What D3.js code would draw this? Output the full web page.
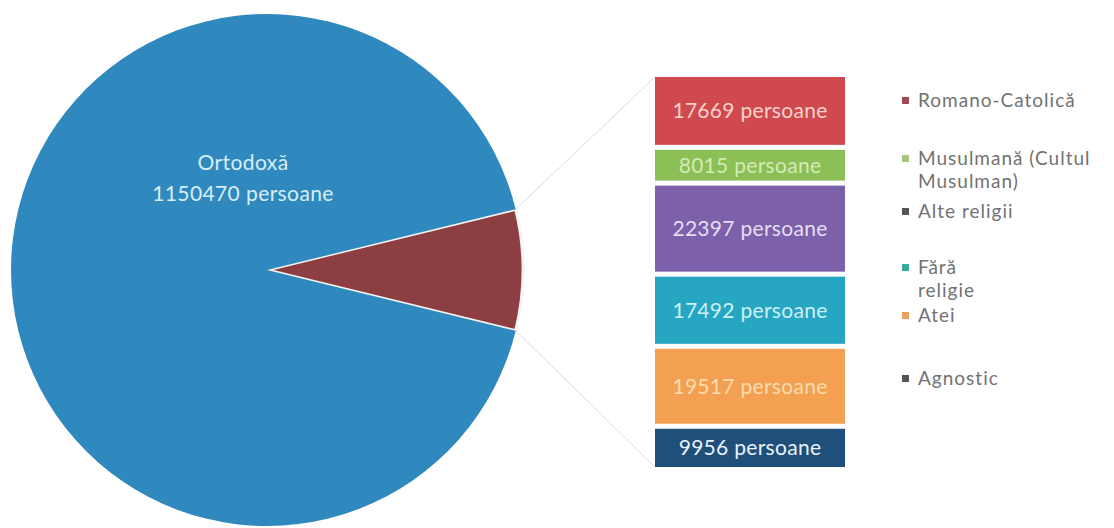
<!DOCTYPE html>
<html>
<head>
<meta charset="utf-8">
<script src="https://cdn.jsdelivr.net/npm/d3@7"></script>
<style>
  body { margin: 0; background: #fff; overflow: hidden; }
  svg { display: block; font-family: Lato, "Open Sans", sans-serif; }
</style>
</head>
<body>
<div id="chart"></div>
<script>
// Religion data (persons)
const mainLabel = "Ortodoxă";
const mainValue = 1150470;
const otherLabel = "Altele";

const categories = ["Romano-Catolică", "Musulmană (Cultul Musulman)", "Alte religii", "Fără religie", "Atei", "Agnostic"];
const values = [17669, 8015, 22397, 17492, 19517, 9956];
const legendLines = [["Romano-Catolică"], ["Musulmană (Cultul", "Musulman)"], ["Alte religii"], ["Fără", "religie"], ["Atei"], ["Agnostic"]];

const barColors = ["#d0494f", "#8cbf56", "#7c60aa", "#26a6c1", "#f4a052", "#1f4f7b"];
const barTextColors = ["#f7d3cc", "#d3ebb5", "#e6def3", "#cdeff6", "#fbdcae", "#eaf1f8"];
const legendColors = ["#9b4a55", "#a9c77e", "#555555", "#3aa7a2", "#e8a262", "#555555"];

const config = {
  width: 1114,
  height: 528,
  pie: { cx: 267, cy: 270, r: 256 },
  bar: { x: 655, width: 190, top: 77, bottom: 467, gap: 5 },
  legend: { x: 905, textX: 918, rows: [100, 158, 211, 267, 315, 378], lineGap: 23 }
};

const svg = d3.select("#chart")
  .append("svg")
  .attr("width", config.width)
  .attr("height", config.height);

// Pie: main slice + aggregated "other" slice, centered on 3 o'clock
const otherTotal = d3.sum(values);
const pieData = [{ label: otherLabel, value: otherTotal }, { label: mainLabel, value: mainValue }];
const otherAngle = 2 * Math.PI * otherTotal / (otherTotal + mainValue);
const start = Math.PI / 2 - otherAngle / 2;

const pie = d3.pie()
  .sort(null)
  .value(d => d.value)
  .startAngle(start)
  .endAngle(start + 2 * Math.PI);

const arcs = pie(pieData);
const arc = d3.arc().innerRadius(0).outerRadius(config.pie.r);

const pieG = svg.append("g")
  .attr("transform", `translate(${config.pie.cx},${config.pie.cy})`);

pieG.selectAll("path")
  .data(arcs)
  .join("path")
  .attr("d", arc)
  .attr("fill", (d, i) => i === 0 ? "#8c3e42" : "#2f89be")
  .attr("stroke", (d, i) => i === 0 ? "#f4f4f4" : "none")
  .attr("stroke-width", 3)
  .attr("stroke-linejoin", "round");

// Main slice label
pieG.append("text")
  .attr("text-anchor", "middle")
  .attr("fill", "#d9edf6")
  .attr("font-size", 21)
  .attr("letter-spacing", 0.4)
  .selectAll("tspan")
  .data([mainLabel, `${mainValue} persoane`])
  .join("tspan")
  .attr("x", -24)
  .attr("y", (d, i) => i === 0 ? -100 : -69)
  .text(d => d);

// Stacked bar for the breakdown
const b = config.bar;
const totalGap = b.gap * (values.length - 1);
const y = d3.scaleLinear()
  .domain([0, otherTotal])
  .range([0, b.bottom - b.top - totalGap]);

const stacked = [];
let acc = 0;
values.forEach((v, i) => {
  stacked.push({ i, v, y0: b.top + y(acc) + i * b.gap, h: y(v) });
  acc += v;
});

// Connector lines from the slice to the bar
const a0 = arcs[0];
const p0 = [Math.sin(a0.startAngle) * config.pie.r + config.pie.cx, -Math.cos(a0.startAngle) * config.pie.r + config.pie.cy];
const p1 = [Math.sin(a0.endAngle) * config.pie.r + config.pie.cx, -Math.cos(a0.endAngle) * config.pie.r + config.pie.cy];
svg.append("g")
  .selectAll("line")
  .data([[p0, [b.x, b.top]], [p1, [b.x, b.bottom]]])
  .join("line")
  .attr("x1", d => d[0][0])
  .attr("y1", d => d[0][1])
  .attr("x2", d => d[1][0])
  .attr("y2", d => d[1][1])
  .attr("stroke", "#dcdcdc")
  .attr("stroke-width", 1);

const barG = svg.append("g");
barG.selectAll("rect")
  .data(stacked)
  .join("rect")
  .attr("x", b.x)
  .attr("y", d => d.y0)
  .attr("width", b.width)
  .attr("height", d => d.h)
  .attr("fill", d => barColors[d.i]);

barG.selectAll("text")
  .data(stacked)
  .join("text")
  .attr("x", b.x + b.width / 2)
  .attr("y", d => d.y0 + d.h / 2)
  .attr("dy", "0.35em")
  .attr("text-anchor", "middle")
  .attr("font-size", 21)
  .attr("letter-spacing", 0.3)
  .attr("fill", d => barTextColors[d.i])
  .text(d => `${d.v} persoane`);

// Legend
const lg = config.legend;
const legendG = svg.append("g");
const items = legendG.selectAll("g")
  .data(categories)
  .join("g")
  .attr("transform", (d, i) => `translate(0,${lg.rows[i]})`);

items.append("rect")
  .attr("x", lg.x - 3)
  .attr("y", -3)
  .attr("width", 7)
  .attr("height", 7)
  .attr("fill", (d, i) => legendColors[i]);

items.append("text")
  .attr("fill", "#727272")
  .attr("font-size", 19)
  .attr("letter-spacing", 1)
  .selectAll("tspan")
  .data((d, i) => legendLines[i])
  .join("tspan")
  .attr("x", lg.textX)
  .attr("y", (d, j) => j * lg.lineGap)
  .attr("dy", "0.35em")
  .text(d => d);
</script>
</body>
</html>
